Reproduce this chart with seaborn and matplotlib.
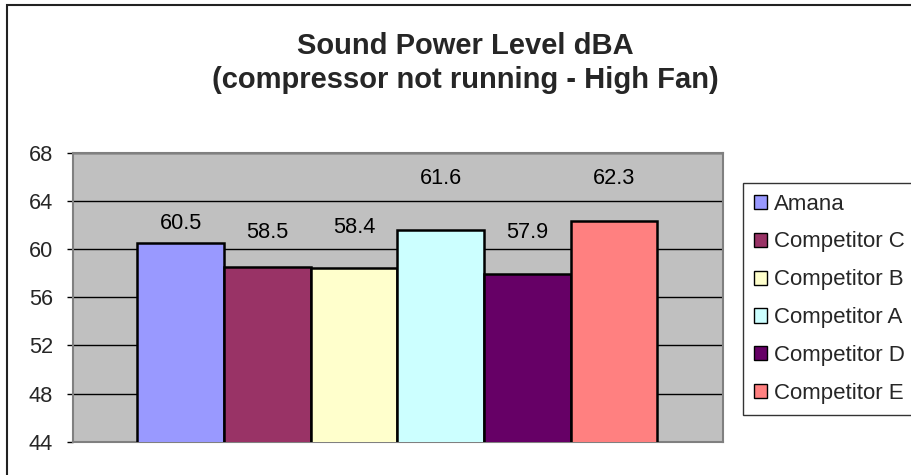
import matplotlib
matplotlib.use('Agg')
import matplotlib.pyplot as plt
import seaborn as sns
from matplotlib.patches import Rectangle

# Data
names = ['Amana', 'Competitor C', 'Competitor B', 'Competitor A', 'Competitor D', 'Competitor E']
values = [60.5, 58.5, 58.4, 61.6, 57.9, 62.3]
colors = ['#9999FF', '#993366', '#FFFFCC', '#CCFFFF', '#660066', '#FF8080']
y_ticks = [44, 48, 52, 56, 60, 64, 68]
# label offsets above bar top (pixels), Excel staggers them
label_offsets = [20, 35, 41, 51, 42, 43]

sns.set_style('white')
plt.rcParams['font.family'] = ['Liberation Sans', 'DejaVu Sans']

fig = plt.figure(figsize=(9.12, 4.75), dpi=100)
W, H = 912, 475
ax = fig.add_axes([73 / W, 1 - 441.7 / H, (722.7 - 73) / W, (441.7 - 152.7) / H])
ax.set_facecolor('#C0C0C0')

sns.barplot(x=names, y=values, hue=names, palette=colors, width=1, dodge=False, saturation=1,
            edgecolor='black', linewidth=1.8, legend=False, ax=ax, zorder=3)

ax.set_ylim(44, 68)
ax.set_xlim(-0.5 - 0.742, 5.5 + 0.754)
ax.set_yticks(y_ticks)
ax.set_xticks([])
ax.set_xlabel('')
ax.set_ylabel('')
ax.yaxis.grid(True, color='black', linewidth=1)
ax.set_axisbelow(True)
ax.tick_params(axis='y', direction='out', length=4.3, width=1, color='black',
               left=True, pad=10, labelsize=15.7)
for s in ax.spines.values():
    s.set_color('#808080')
    s.set_linewidth(1.5)

# Data labels
for i, (v, off) in enumerate(zip(values, label_offsets)):
    ax.annotate(f'{v:.1f}', xy=(i, v), xytext=(0, off * 0.72), textcoords='offset points',
                ha='center', va='center', fontsize=15.7, color='black')

# Title
fig.text(465 / W, 1 - 63 / H, 'Sound Power Level dBA\n(compressor not running - High Fan)',
         ha='center', va='center', fontsize=21, fontweight='bold', linespacing=1.3)

# Legend
handles = [Rectangle((0, 0), 1, 1, facecolor=c, edgecolor='black', linewidth=1) for c in colors]
leg = fig.legend(handles, names, loc='upper left', bbox_to_anchor=(742.7 / W, 1 - 182.5 / H),
                 frameon=True, fancybox=False, edgecolor='black', fontsize=16,
                 handlelength=0.6, handleheight=0.6, handletextpad=0.3, labelspacing=0.76,
                 borderpad=0.5, borderaxespad=0)
leg.get_frame().set_linewidth(1)

# Chart border
fig.patches.append(Rectangle((7.5 / W, -0.05), 1.1, 1 - 4.5 / H + 0.05, transform=fig.transFigure,
                             fill=False, edgecolor='#222222', linewidth=1.5))

fig.savefig('out.png', dpi=100, facecolor='white')
